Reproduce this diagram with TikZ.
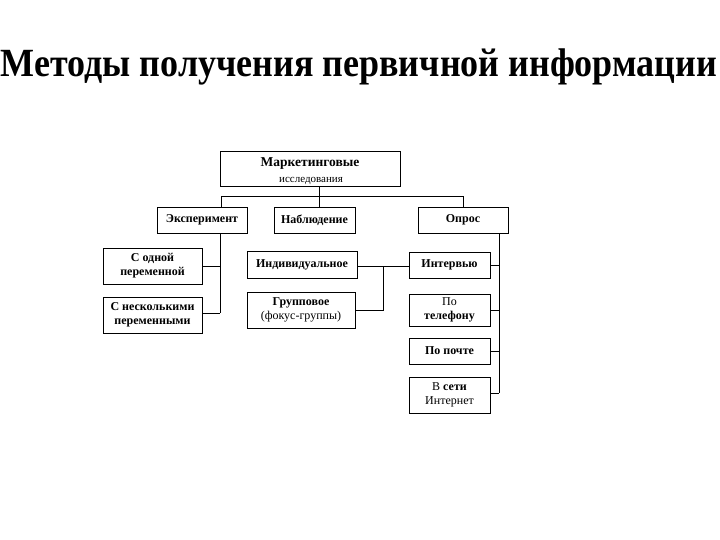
\documentclass[tikz,border=0pt]{standalone}
\usepackage{fontspec}
\setmainfont{Liberation Serif}
\tikzset{
  box/.style={draw, fill=white, line width=0.7pt, inner sep=0pt, align=center, font=\fontsize{12}{14}\selectfont},
  conn/.style={draw, line width=0.7pt},
}
\begin{document}
\begin{tikzpicture}[x=1pt,y=-1pt]
\useasboundingbox (0,0) rectangle (720,540);
\node[inner sep=0pt] (title) at (359,67) {\resizebox{716pt}{\height}{\fontsize{40}{44}\selectfont\bfseries Методы получения первичной информации}};
% top
\node[box, minimum width=180, minimum height=35] (top) at (310,168.5) {};
\node[font=\fontsize{13.5}{14}\selectfont\bfseries, inner sep=0pt] (toptxt) at (310,164) {Маркетинговые};
\node[font=\fontsize{11}{12}\selectfont, inner sep=0pt] (toptxt2) at (311,181) {исследования};
% level 1
\node[box, minimum width=90, minimum height=26] (exp) at (202,220) {\bfseries Эксперимент};
\node[box, minimum width=81, minimum height=26] (nab) at (314.5,220) {\bfseries Наблюдение};
\node[box, minimum width=90, minimum height=26] (opr) at (463,220) {\bfseries Опрос};
% experiment children
\node[box, minimum width=99, minimum height=36] (odna) at (152.5,266) {\bfseries С одной\\\bfseries переменной};
\node[box, minimum width=99, minimum height=36] (nesk) at (152.5,315) {\bfseries С несколькими\\\bfseries переменными};
% observation children
\node[box, minimum width=110, minimum height=27] (ind) at (302,264.5) {\bfseries Индивидуальное};
\node[box, minimum width=108, minimum height=36] (grp) at (301,310) {\bfseries Групповое\\(фокус-группы)};
% survey children
\node[box, minimum width=81, minimum height=26] (int) at (449.5,265) {\bfseries Интервью};
\node[box, minimum width=81, minimum height=32] (tel) at (449.5,310) {По\\\bfseries телефону};
\node[box, minimum width=81, minimum height=26] (poch) at (449.5,351) {\bfseries По почте};
\node[box, minimum width=81, minimum height=36] (inet) at (449.5,395) {В \textbf{сети}\\Интернет};
% connectors
\coordinate (busL) at (221,196);
\coordinate (busR) at (463,196);
\coordinate (expbus) at (220,313);
\coordinate (indbus) at (383,266);
\coordinate (oprbus) at (499,393);
\draw[conn] ([xshift=9]top.south) -- ([xshift=9]top.south |- nab.north);
\draw[conn] (busL |- exp.north) -- (busL) -- (busR) -- (opr.north);
\draw[conn] (expbus |- exp.south) -- (expbus);
\draw[conn] (odna.east) -- (odna.east -| expbus);
\draw[conn] (nesk.east |- expbus) -- (expbus);
\draw[conn] (ind.east |- indbus) -- (int.west |- indbus);
\draw[conn] (indbus) |- (grp.east);
\draw[conn] (oprbus |- opr.south) -- (oprbus);
\draw[conn] (int.east) -- (int.east -| oprbus);
\draw[conn] (tel.east) -- (tel.east -| oprbus);
\draw[conn] (poch.east) -- (poch.east -| oprbus);
\draw[conn] (inet.east |- oprbus) -- (oprbus);
\end{tikzpicture}
\end{document}
